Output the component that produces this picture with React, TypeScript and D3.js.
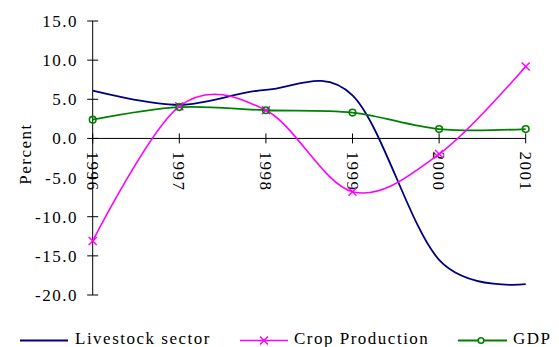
import React from "react";
import * as d3 from "d3";

const years = [1996, 1997, 1998, 1999, 2000, 2001];
const livestock = [6.1, 4.3, 6.2, 5.5, -15.5, -18.6];
const crop = [-13.1, 4.1, 3.6, -6.8, -2.0, 9.2];
const gdp = [2.4, 4.0, 3.6, 3.3, 1.2, 1.2];
const yTicks = [15, 10, 5, 0, -5, -10, -15, -20];

const W = 559;
const H = 347;
const FONT = "'Liberation Serif', 'Times New Roman', serif";

const x = d3.scaleLinear().domain([1996, 2001]).range([92.7, 525.7]);
const y = d3.scaleLinear().domain([-20, 15]).range([295, 21]);

const line = d3
  .line<[number, number]>()
  .x((d) => x(d[0]))
  .y((d) => y(d[1]))
  .curve(d3.curveCatmullRom.alpha(0));

const pts = (vals: number[]) => years.map((yr, i) => [yr, vals[i]] as [number, number]);

const BLUE = "#000080";
const MAGENTA = "#FF00FF";
const GREEN = "#008000";

function Cross({ cx, cy, s = 4 }: { cx: number; cy: number; s?: number }) {
  return (
    <g stroke={MAGENTA} strokeWidth={1.5}>
      <line x1={cx - s} y1={cy - s} x2={cx + s} y2={cy + s} />
      <line x1={cx - s} y1={cy + s} x2={cx + s} y2={cy - s} />
    </g>
  );
}

export default function App() {
  const y0 = y(0);
  const textStyle = { fontFamily: FONT, fontSize: 17, letterSpacing: "1.5px", fill: "#000" } as const;
  return (
    <svg
      width={W}
      height={H}
      style={{ position: "absolute", left: 0, top: 0, background: "#fff" }}
    >
      {/* y axis */}
      <line x1={x(1996)} x2={x(1996)} y1={y(15)} y2={y(-20)} stroke="#000" strokeWidth={1} />
      {yTicks.map((t) => (
        <g key={t}>
          <line x1={x(1996) - 5.5} x2={x(1996) + 5.5} y1={y(t)} y2={y(t)} stroke="#000" />
          <text x={78} y={y(t)} dy="0.35em" textAnchor="end" style={textStyle}>
            {t.toFixed(1)}
          </text>
        </g>
      ))}
      {/* x axis along zero */}
      <line x1={x(1996)} x2={x(2001)} y1={y0} y2={y0} stroke="#000" strokeWidth={1} />
      {years.map((yr) => (
        <g key={yr}>
          <line x1={x(yr)} x2={x(yr)} y1={y0 - 5} y2={y0 + 5} stroke="#000" />
          <text
            transform={`translate(${x(yr)},${y0 + 13}) rotate(90)`}
            dy="0.35em"
            textAnchor="start"
            style={textStyle}
          >
            {yr}
          </text>
        </g>
      ))}
      <text
        transform={`translate(25,154) rotate(-90)`}
        dy="0.35em"
        textAnchor="middle"
        style={textStyle}
      >
        Percent
      </text>

      {/* series */}
      <path d={line(pts(livestock)) ?? ""} fill="none" stroke={BLUE} strokeWidth={1.8} />
      <path d={line(pts(gdp)) ?? ""} fill="none" stroke={GREEN} strokeWidth={1.8} />
      <path d={line(pts(crop)) ?? ""} fill="none" stroke={MAGENTA} strokeWidth={1.6} />
      {years.map((yr, i) => (
        <Cross key={"c" + yr} cx={x(yr)} cy={y(crop[i])} />
      ))}
      {years.map((yr, i) => (
        <circle key={"g" + yr} cx={x(yr)} cy={y(gdp[i])} r={3.3} fill="none" stroke={GREEN} strokeWidth={1.6} />
      ))}

      {/* legend */}
      <g>
        <line x1={20} x2={68} y1={340.5} y2={340.5} stroke={BLUE} strokeWidth={1.8} />
        <text x={75} y={344.3} style={textStyle}>Livestock sector</text>
        <line x1={240} x2={288} y1={340.5} y2={340.5} stroke={MAGENTA} strokeWidth={1.6} />
        <Cross cx={264} cy={340.5} />
        <text x={294} y={344.3} style={textStyle}>Crop Production</text>
        <line x1={458} x2={507} y1={340.5} y2={340.5} stroke={GREEN} strokeWidth={1.8} />
        <circle cx={481} cy={340.5} r={2.8} fill="#fff" stroke={GREEN} strokeWidth={1.6} />
        <text x={513} y={344.3} style={textStyle}>GDP</text>
      </g>
    </svg>
  );
}
